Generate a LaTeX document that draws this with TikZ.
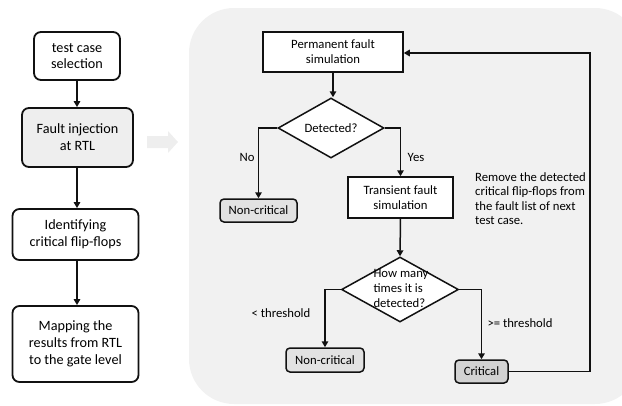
\documentclass[tikz,border=0pt]{standalone}
\usepackage{fontspec}
\setmainfont{Carlito}
\usetikzlibrary{shapes.geometric,arrows.meta}
\definecolor{bgc}{HTML}{F1F1F1}
\definecolor{injc}{HTML}{EEEEEE}
\definecolor{ncc}{HTML}{E2E2E2}
\definecolor{crc}{HTML}{D2D2D2}
\definecolor{linec}{HTML}{111111}
\begin{document}
\begin{tikzpicture}[x=1pt,y=-1pt,
  every node/.style={font=\fontsize{14.2}{16.8}\selectfont},
  lbox/.style={draw=linec,line width=1.8pt,rounded corners=7pt,fill=white,align=center,inner sep=0pt},
  rbox/.style={draw=linec,line width=1.5pt,fill=white,align=center,inner sep=0pt,font=\fontsize{12.7}{14.8}\selectfont},
  rres/.style={draw=linec,line width=1.5pt,rounded corners=4pt,align=center,inner sep=0pt,font=\fontsize{12.7}{14.8}\selectfont},
  dia/.style={diamond,draw=linec,line width=1.5pt,fill=white,inner sep=0pt},
  lbl/.style={font=\fontsize{12.7}{14.6}\selectfont,inner sep=0pt},
  arr/.style={draw=linec,line width=1.8pt,-{Triangle[length=6pt,width=6.5pt]}},
  rarr/.style={draw=linec,line width=1.5pt,-{Triangle[length=6pt,width=6.5pt]}}]
\useasboundingbox (0,0) rectangle (622,405);
% background panel
\fill[bgc,rounded corners=45pt] (189,8) rectangle (640,404);
% big light arrow
\fill[injc] (147,136) -- (168,136) -- (168,131) -- (178,142) -- (168,153) -- (168,148) -- (147,148) -- cycle;
% left column
\node[lbox,minimum width=86,minimum height=48] (b1) at (77,56) {test case\\selection};
\node[lbox,fill=injc,minimum width=111,minimum height=59] (b2) at (77.5,137.5) {Fault injection\\at RTL};
\node[lbox,minimum width=126,minimum height=51] (b3) at (75.5,234.5) {Identifying\\critical flip-flops};
\node[lbox,minimum width=126,minimum height=76] (b4) at (75.5,344) {Mapping the\\results from RTL\\to the gate level};
\coordinate (cx) at (77,0);
\draw[arr] (b1.south) -- (b1.south |- b2.north);
\draw[arr] (cx |- b2.south) -- (cx |- b3.north);
\draw[arr] (cx |- b3.south) -- (cx |- b4.north);
% right flowchart
\node[rbox,minimum width=140,minimum height=40] (perm) at (333,52) {Permanent fault\\simulation};
\node[dia,minimum width=106,minimum height=60] (det) at (331,128) {};
\node[lbl] at (det) {Detected?};
\node[rres,fill=ncc,minimum width=77,minimum height=23] (nc1) at (258.5,210.5) {Non-critical};
\node[rbox,minimum width=105,minimum height=41] (trans) at (400.5,197.5) {Transient fault\\simulation};
\node[dia,minimum width=117,minimum height=65] (d2) at (400,289.5) {};
\node[lbl,align=left] at (401,288.5) {How many\\times it is\\detected?};
\node[rres,fill=ncc,minimum width=78,minimum height=24] (nc2) at (325,360) {Non-critical};
\node[rres,fill=crc,minimum width=53,minimum height=23] (crit) at (481.5,371.5) {Critical};
\coordinate (fbx) at (590,0);
\coordinate (fby) at (0,53);
\draw[rarr] (perm.south) -- (perm.south |- det.north);
\draw[rarr] (det.west) -| (nc1.north);
\draw[rarr] (det.east) -| (trans.north);
\draw[rarr] (trans.south) -- (d2.north);
\draw[rarr] (d2.west) -| (nc2.north);
\draw[rarr] (d2.east) -| (crit.north);
\draw[rarr] (crit.east) -| (fbx |- fby) -- (perm.east |- fby);
\node[lbl] at (247,157) {No};
\node[lbl] at (416,157) {Yes};
\node[lbl] at (281,313) {< threshold};
\node[lbl] at (520,323) {>= threshold};
\node[lbl,align=left,anchor=north west] at (475,172) {Remove the detected\\critical flip-flops from\\the fault list of next\\test case.};
\end{tikzpicture}
\end{document}
